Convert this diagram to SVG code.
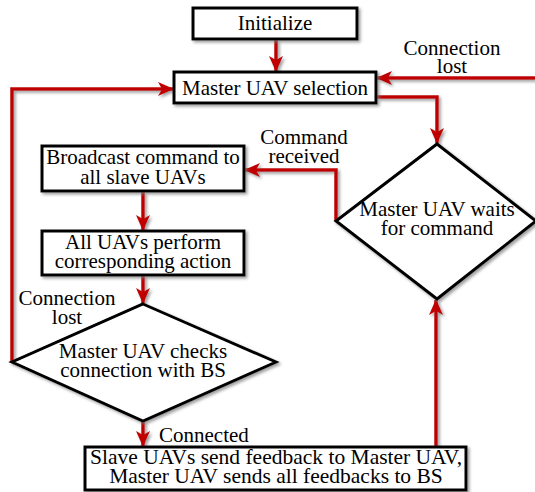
<svg xmlns="http://www.w3.org/2000/svg" width="535" height="492" viewBox="0 0 535 492">
<defs>
<filter id="sh" filterUnits="userSpaceOnUse" x="0" y="0" width="535" height="492">
<feDropShadow dx="2" dy="2" stdDeviation="1.5" flood-color="#777" flood-opacity="0.7"/>
</filter>
<marker id="ah" markerUnits="userSpaceOnUse" markerWidth="16" markerHeight="16" viewBox="0 0 16 16" refX="15" refY="8" orient="auto">
<path d="M0,1 L16,8 L0,15 L4,8 z" fill="#c00000"/>
</marker>
</defs>
<style>
.box{fill:#fff;stroke:#000;stroke-width:3;filter:url(#sh)}
.con{fill:none;stroke:#c00000;stroke-width:3.5;marker-end:url(#ah);filter:url(#sh)}
text{font-family:"Liberation Serif","Times New Roman",serif;font-size:21px;fill:#000;text-anchor:middle}
.big{font-size:21.5px}
</style>
<g id="connectors">
<path class="con" d="M276,40 V71"/>
<path class="con" d="M535,78 H377"/>
<path class="con" d="M12,362 V89 H173"/>
<path class="con" d="M377,97 H437 V143"/>
<path class="con" d="M336,221 V170 H245"/>
<path class="con" d="M143,192 V230"/>
<path class="con" d="M143,275 V303"/>
<path class="con" d="M143,421 V446"/>
<path class="con" d="M436,447 V300"/>
</g>
<g id="labels">
<text x="452" y="55">Connection</text>
<text x="452" y="73">lost</text>
<text x="304" y="144">Command</text>
<text x="304" y="163">received</text>
<text x="67" y="305">Connection</text>
<text x="67" y="324">lost</text>
<text x="159" y="442" style="text-anchor:start">Connected</text>
</g>
<g id="initialize">
<rect class="box" x="193" y="8" width="164" height="31"/>
<text x="275" y="30">Initialize</text>
</g>
<g id="master-selection">
<rect class="box" x="174" y="72" width="202" height="31"/>
<text x="275" y="95">Master UAV selection</text>
</g>
<g id="master-waits">
<polygon class="box" points="437,144 536,221 437,299 336,221"/>
<text x="437" y="216">Master UAV waits</text>
<text x="437" y="235">for command</text>
</g>
<g id="broadcast">
<rect class="box" x="42" y="146" width="202" height="45"/>
<text x="143" y="164">Broadcast command to</text>
<text x="143" y="184">all slave UAVs</text>
</g>
<g id="perform">
<rect class="box" x="42" y="231" width="202" height="44"/>
<text x="143" y="249">All UAVs perform</text>
<text x="143" y="268">corresponding action</text>
</g>
<g id="check">
<polygon class="box" points="143,304 276,362 143,421 12,362"/>
<text x="143" y="358">Master UAV checks</text>
<text x="143" y="377">connection with BS</text>
</g>
<g id="feedback">
<rect class="box" x="85" y="447" width="381" height="43"/>
<text class="big" x="276" y="464">Slave UAVs send feedback to Master UAV,</text>
<text class="big" x="276" y="483">Master UAV sends all feedbacks to BS</text>
</g>
</svg>
